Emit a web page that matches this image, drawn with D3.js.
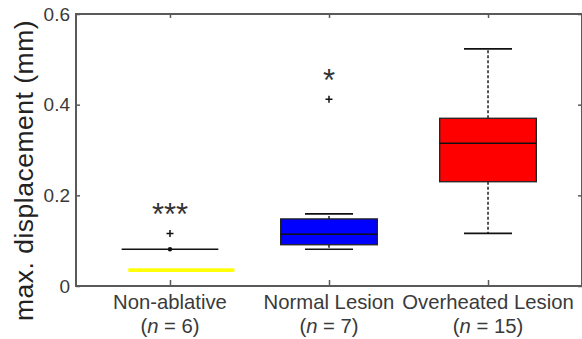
<!DOCTYPE html>
<html>
<head>
<meta charset="utf-8">
<script src="https://cdn.jsdelivr.net/npm/d3@7/dist/d3.min.js"></script>
<style>
  html, body { margin: 0; padding: 0; background: #fff; }
  svg { display: block; }
  text { font-family: "Liberation Sans", Arial, Helvetica, sans-serif; }
</style>
</head>
<body>
<svg id="chart" width="582" height="339"></svg>
<script>
// ---- data ----
const categories = ["Non-ablative", "Normal Lesion", "Overheated Lesion"];
const groupSizes = [6, 7, 15];
const q1 = [0.031, 0.091, 0.230];
const medians = [0.081, 0.114, 0.315];
const q3 = [0.039, 0.148, 0.370];
const whiskerLow = [0.081, 0.081, 0.116];
const whiskerHigh = [0.081, 0.159, 0.523];
const outliers = [[0.116], [0.412], []];
const sigMarks = ["***", "*", ""];
const sigValues = [0.176, 0.473, null];
const boxColors = ["#ffff00", "#0000ff", "#ff0000"];
const yTickValues = [0, 0.2, 0.4, 0.6];
const yLabel = "max. displacement  (mm)";

// ---- layout ----
const svg = d3.select("#chart");
const mLeft = 76, mRight = 582, mTop = 14, mBottom = 286;
const x = d3.scaleLinear().domain([0.409, 3.591]).range([mLeft, mRight]);
const y = d3.scaleLinear().domain([0, 0.6]).range([mBottom, mTop]);
const axisColor = "#5a5a5a";
const textColor = "#3a3a3a";
const boxHalf = 0.304, capHalf = 0.151;

// frame
svg.append("rect").attr("x", mLeft).attr("y", mTop)
  .attr("width", mRight - mLeft).attr("height", mBottom - mTop)
  .attr("fill", "none").attr("stroke", axisColor).attr("stroke-width", 2);

// y axis (left) ticks + labels
const yAxis = d3.axisLeft(y).tickValues(yTickValues).tickSize(-4)
  .tickFormat(d => d === 0 ? "0" : d3.format(".1f")(d)).tickPadding(6);
const ga = svg.append("g").attr("transform", `translate(${mLeft},0)`).call(yAxis);
ga.select(".domain").remove();
ga.selectAll(".tick line").attr("stroke", axisColor).attr("stroke-width", 1.5);
ga.selectAll(".tick text").attr("font-size", 19).attr("fill", textColor)
  .attr("font-family", '"Liberation Sans", Arial, sans-serif');

// right ticks
const gr = svg.append("g").attr("transform", `translate(${mRight},0)`)
  .call(d3.axisRight(y).tickValues(yTickValues).tickSize(-4).tickFormat(""));
gr.select(".domain").remove();
gr.selectAll(".tick line").attr("stroke", axisColor).attr("stroke-width", 1.5);

// bottom ticks + labels
const positions = categories.map((c, i) => i + 1);
const gb = svg.append("g").attr("transform", `translate(0,${mBottom})`)
  .call(d3.axisBottom(x).tickValues(positions).tickSize(-6).tickFormat(""));
gb.select(".domain").remove();
gb.selectAll(".tick line").attr("stroke", axisColor).attr("stroke-width", 1.5);
const gt = svg.append("g").attr("transform", `translate(0,${mTop})`)
  .call(d3.axisTop(x).tickValues(positions).tickSize(-4).tickFormat(""));
gt.select(".domain").remove();
gt.selectAll(".tick line").attr("stroke", axisColor).attr("stroke-width", 1.5);

// category labels
categories.forEach((c, i) => {
  const cx = x(i + 1);
  svg.append("text").attr("x", cx).attr("y", 308.5).attr("text-anchor", "middle")
    .attr("font-size", 20.3).attr("fill", textColor).text(c);
  const t = svg.append("text").attr("x", cx).attr("y", 332.5).attr("text-anchor", "middle")
    .attr("font-size", 20.3).attr("fill", textColor);
  t.append("tspan").text("(");
  t.append("tspan").attr("font-style", "italic").text("n");
  t.append("tspan").text(" = " + groupSizes[i] + ")");
});

// y label
svg.append("text")
  .attr("transform", `translate(33,${(13 + 322) / 2 + 3}) rotate(-90)`)
  .attr("text-anchor", "middle").attr("font-size", 26.5).attr("fill", "#222")
  .attr("letter-spacing", 0.5)
  .text(yLabel);

// ---- boxes ----
const g = svg.append("g");
categories.forEach((c, i) => {
  const p = i + 1, cx = x(p);
  if (i === 0) {
    // degenerate group: collapsed box drawn as a yellow bar, median line with a dot
    g.append("rect").attr("x", x(p - 0.262)).attr("y", y(q3[i]))
      .attr("width", x(p + 0.405) - x(p - 0.262)).attr("height", y(q1[i]) - y(q3[i]))
      .attr("fill", boxColors[i]);
    g.append("line").attr("x1", x(p - boxHalf)).attr("x2", x(p + boxHalf))
      .attr("y1", y(medians[i])).attr("y2", y(medians[i]))
      .attr("stroke", "#111").attr("stroke-width", 1.5);
    g.append("circle").attr("cx", cx).attr("cy", y(whiskerHigh[i])).attr("r", 2.2).attr("fill", "#111");
  } else {
    // whiskers
    g.append("line").attr("x1", cx).attr("x2", cx)
      .attr("y1", y(q3[i])).attr("y2", y(whiskerHigh[i]))
      .attr("stroke", "#111").attr("stroke-width", 1.4).attr("stroke-dasharray", "3,2");
    g.append("line").attr("x1", x(p - capHalf)).attr("x2", x(p + capHalf))
      .attr("y1", y(whiskerHigh[i])).attr("y2", y(whiskerHigh[i]))
      .attr("stroke", "#111").attr("stroke-width", 1.6);
    g.append("line").attr("x1", cx).attr("x2", cx)
      .attr("y1", y(q1[i])).attr("y2", y(whiskerLow[i]))
      .attr("stroke", "#111").attr("stroke-width", 1.4).attr("stroke-dasharray", "3,2");
    g.append("line").attr("x1", x(p - capHalf)).attr("x2", x(p + capHalf))
      .attr("y1", y(whiskerLow[i])).attr("y2", y(whiskerLow[i]))
      .attr("stroke", "#111").attr("stroke-width", 1.6);
    // box + median
    g.append("rect").attr("x", x(p - boxHalf)).attr("y", y(q3[i]))
      .attr("width", x(p + boxHalf) - x(p - boxHalf)).attr("height", y(q1[i]) - y(q3[i]))
      .attr("fill", boxColors[i]).attr("stroke", "#222").attr("stroke-width", 1.3);
    g.append("line").attr("x1", x(p - boxHalf)).attr("x2", x(p + boxHalf))
      .attr("y1", y(medians[i])).attr("y2", y(medians[i]))
      .attr("stroke", "#111").attr("stroke-width", 1.6);
  }
  // outliers as "+"
  outliers[i].forEach(v => {
    const oy = y(v);
    g.append("path").attr("d", `M${cx - 3.5},${oy}H${cx + 3.5}M${cx},${oy - 3.5}V${oy + 3.5}`)
      .attr("stroke", "#111").attr("stroke-width", 1.5);
  });
  // significance
  if (sigMarks[i]) {
    svg.append("text").attr("x", cx).attr("y", y(sigValues[i]) + 19)
      .attr("text-anchor", "middle").attr("font-size", 31).attr("fill", "#333")
      .text(sigMarks[i]);
  }
});
</script>
</body>
</html>
